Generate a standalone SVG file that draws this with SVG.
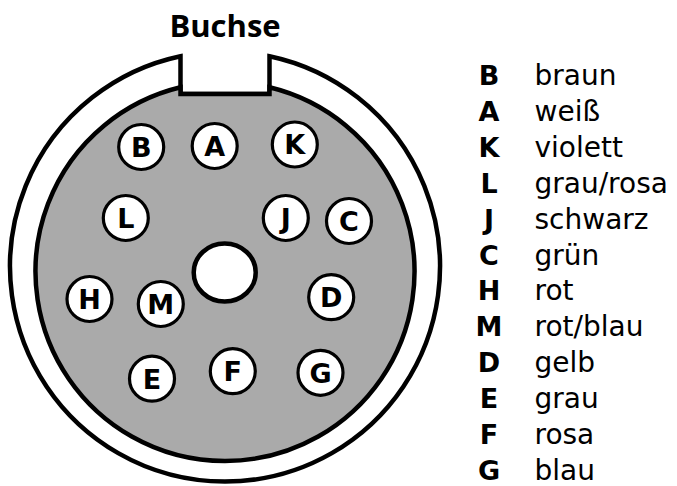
<svg xmlns="http://www.w3.org/2000/svg" width="677" height="486" viewBox="0 0 677 486">
<style>
.ln{stroke:#000;stroke-width:4.5;stroke-linejoin:miter}
.pin circle{fill:#fff;stroke:#000;stroke-width:3.2}
.pin text{font-family:"DejaVu Sans",Verdana,sans-serif;font-weight:bold;font-size:27px;text-anchor:middle;fill:#000}
.key{font-family:"DejaVu Sans",Verdana,sans-serif;font-weight:bold;font-size:27px;text-anchor:middle;fill:#000}
.col{font-family:"DejaVu Sans",Verdana,sans-serif;font-size:28px;fill:#000}
.title{font-family:"Open Sans","Noto Sans",sans-serif;font-weight:bold;font-size:31px;text-anchor:middle;fill:#000}
</style>
<rect width="677" height="486" fill="#fff"/>
<text class="title" x="225" y="37">Buchse</text>
<g id="housing">
<path class="ln" fill="#fff" d="M180.5,56.2 A215,215 0 1 0 269.5,56.2 L269.5,94 L180.5,94 Z"/>
<path class="ln" fill="#aaaaaa" d="M180.5,87.3 A189.5,189.5 0 1 0 269.5,87.3 L269.5,94 L180.5,94 Z"/>
<ellipse class="ln" fill="#fff" cx="224.7" cy="272.5" rx="31" ry="29"/>
</g>
<g id="pin-B" class="pin"><circle cx="141.2" cy="147" r="22.5"/><text x="141.2" y="156.8">B</text></g>
<g id="pin-A" class="pin"><circle cx="214.7" cy="146" r="22.5"/><text x="214.7" y="155.8">A</text></g>
<g id="pin-K" class="pin"><circle cx="294.8" cy="144.5" r="22.5"/><text x="294.8" y="154.3">K</text></g>
<g id="pin-L" class="pin"><circle cx="125.8" cy="218" r="22.5"/><text x="125.8" y="227.8">L</text></g>
<g id="pin-J" class="pin"><circle cx="285.8" cy="218" r="22.5"/><text x="285.8" y="227.8">J</text></g>
<g id="pin-C" class="pin"><circle cx="349" cy="221" r="22.5"/><text x="349" y="230.8">C</text></g>
<g id="pin-H" class="pin"><circle cx="89.5" cy="299" r="22.5"/><text x="89.5" y="308.8">H</text></g>
<g id="pin-M" class="pin"><circle cx="160.8" cy="304" r="22.5"/><text x="160.8" y="313.8">M</text></g>
<g id="pin-D" class="pin"><circle cx="331.2" cy="297.2" r="22.5"/><text x="331.2" y="307">D</text></g>
<g id="pin-E" class="pin"><circle cx="152" cy="378.7" r="22.5"/><text x="152" y="388.5">E</text></g>
<g id="pin-F" class="pin"><circle cx="232.8" cy="371.2" r="22.5"/><text x="232.8" y="381">F</text></g>
<g id="pin-G" class="pin"><circle cx="320.5" cy="372.8" r="22.5"/><text x="320.5" y="382.6">G</text></g>
<g id="connectors"></g>
<g id="legend">
<text class="key" x="489" y="85">B</text><text class="col" x="534.5" y="85">braun</text>
<text class="key" x="489" y="120.9">A</text><text class="col" x="534.5" y="120.9">weiß</text>
<text class="key" x="489" y="156.8">K</text><text class="col" x="534.5" y="156.8">violett</text>
<text class="key" x="489" y="192.7">L</text><text class="col" x="534.5" y="192.7">grau/rosa</text>
<text class="key" x="489" y="228.6">J</text><text class="col" x="534.5" y="228.6">schwarz</text>
<text class="key" x="489" y="264.5">C</text><text class="col" x="534.5" y="264.5">grün</text>
<text class="key" x="489" y="300.4">H</text><text class="col" x="534.5" y="300.4">rot</text>
<text class="key" x="489" y="336.3">M</text><text class="col" x="534.5" y="336.3">rot/blau</text>
<text class="key" x="489" y="372.2">D</text><text class="col" x="534.5" y="372.2">gelb</text>
<text class="key" x="489" y="408.1">E</text><text class="col" x="534.5" y="408.1">grau</text>
<text class="key" x="489" y="444">F</text><text class="col" x="534.5" y="444">rosa</text>
<text class="key" x="489" y="479.9">G</text><text class="col" x="534.5" y="479.9">blau</text>
</g>
</svg>
